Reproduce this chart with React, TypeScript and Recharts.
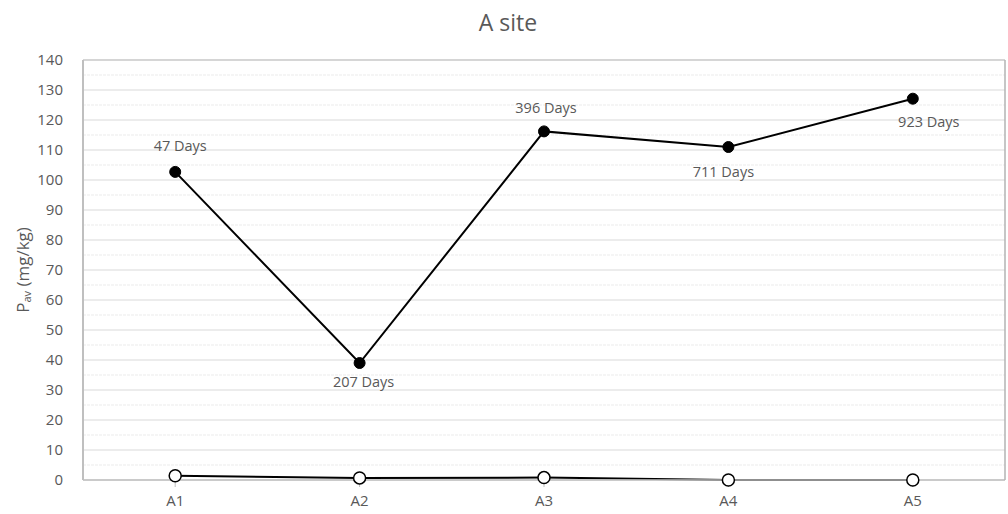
import React from "react";
import { LineChart, Line, XAxis, YAxis, CartesianGrid, LabelList, ReferenceLine } from "recharts";

const categories = ["A1", "A2", "A3", "A4", "A5"];
const pavValues = [102.7, 39, 116.2, 111, 127.1];
const secondValues = [1.4, 0.7, 0.8, 0, 0];
const dayLabels = ["47 Days", "207 Days", "396 Days", "711 Days", "923 Days"];
const yTicks = [0, 10, 20, 30, 40, 50, 60, 70, 80, 90, 100, 110, 120, 130, 140];
const minorTicks = [5, 15, 25, 35, 45, 55, 65, 75, 85, 95, 105, 115, 125, 135];

const data = categories.map((c, i) => ({
  name: c,
  pav: pavValues[i],
  second: secondValues[i],
  days: dayLabels[i],
}));

const FONT = "'Open Sans', 'Noto Sans', sans-serif";
const TEXT = "#595959";

// label placement relative to point: [dx, dy]
const labelOffsets: [number, number][] = [
  [5, -26],
  [4, 18],
  [2, -24],
  [-5, 24],
  [16, 23],
];

const DayLabel = (props: any) => {
  const { x, y, index, value } = props;
  const [dx, dy] = labelOffsets[index] || [0, -20];
  return (
    <text
      x={x + dx}
      y={y + dy}
      textAnchor="middle"
      dominantBaseline="central"
      fill={TEXT}
      fontSize={14.5}
      fontFamily={FONT}
    >
      {value}
    </text>
  );
};

const YLabel = (props: any) => {
  const { viewBox } = props;
  const cy = viewBox.y + viewBox.height / 2;
  const cx = 22;
  return (
    <text
      x={cx}
      y={cy}
      transform={`rotate(-90, ${cx}, ${cy})`}
      textAnchor="middle"
      dominantBaseline="central"
      fill={TEXT}
      fontSize={17}
      fontFamily={FONT}
    >
      <tspan>P</tspan>
      <tspan fontSize={11} dy={4}>av</tspan>
      <tspan dy={-4}> (mg/kg)</tspan>
    </text>
  );
};

export default function App() {
  return (
    <div style={{ position: "absolute", left: 0, top: 0, width: 1008, height: 514, background: "#fff" }}>
      <div
        style={{
          position: "absolute",
          left: 0,
          top: 6,
          width: 1008,
          textAlign: "center",
          fontFamily: FONT,
          fontSize: 23,
          color: TEXT,
          paddingLeft: 8,
          boxSizing: "border-box",
        }}
      >
        A site
      </div>
      <LineChart
        width={1008}
        height={514}
        data={data}
        margin={{ top: 60, right: 2, bottom: 0, left: 0 }}
      >
        <CartesianGrid
          vertical={false}
          horizontalValues={minorTicks}
          stroke="#ebebeb"
          strokeDasharray="3 1"
        />
        <CartesianGrid vertical={false} horizontalValues={yTicks} stroke="#d9d9d9" />
        <XAxis
          dataKey="name"
          scale="band"
          height={34}
          axisLine={{ stroke: "#bfbfbf", strokeWidth: 1.5 }}
          tickLine={{ stroke: "#bfbfbf" }}
          tickSize={7}
          tick={{ fill: TEXT, fontSize: 15, fontFamily: FONT, dy: 6 }}
        />
        <YAxis
          type="number"
          domain={[0, 140]}
          ticks={yTicks}
          interval={0}
          width={83}
          axisLine={{ stroke: "#bfbfbf", strokeWidth: 2 }}
          tickLine={false}
          tickMargin={14}
          tick={{ fill: TEXT, fontSize: 15, fontFamily: FONT }}
          label={<YLabel />}
        />
        <YAxis
          yAxisId="frame"
          orientation="right"
          type="number"
          domain={[0, 140]}
          width={1}
          tick={false}
          tickLine={false}
          axisLine={{ stroke: "#b3b3b3", strokeWidth: 1.5 }}
        />
        <ReferenceLine y={140} stroke="#bfbfbf" />
        <Line
          type="linear"
          dataKey="pav"
          stroke="#000"
          strokeWidth={2}
          dot={{ r: 5.5, fill: "#000", stroke: "#000", strokeWidth: 1 }}
          isAnimationActive={false}
        >
          <LabelList dataKey="days" content={<DayLabel />} />
        </Line>
        <Line
          type="linear"
          dataKey="second"
          stroke="#000"
          strokeWidth={2}
          dot={{ r: 6, fill: "#fff", stroke: "#000", strokeWidth: 1.5 }}
          isAnimationActive={false}
        />
      </LineChart>
    </div>
  );
}
